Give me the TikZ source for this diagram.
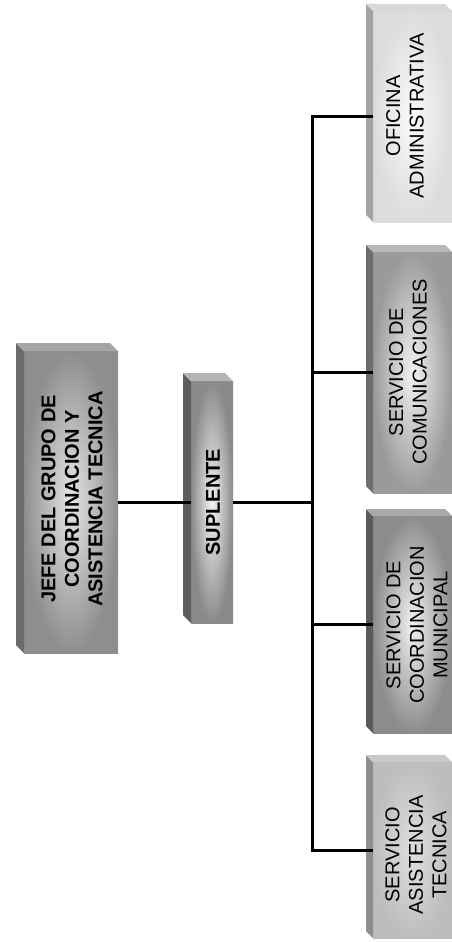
\documentclass[tikz,border=0pt]{standalone}
\usepackage{fontspec}
\setmainfont{Liberation Sans}
\usetikzlibrary{calc}
\definecolor{jefeIn}{HTML}{E6E6E6}\definecolor{jefeOut}{HTML}{8E8E8E}
\definecolor{jefeL}{HTML}{6B6B6B}\definecolor{jefeT}{HTML}{A6A6A6}
\definecolor{supIn}{HTML}{F4F4F4}\definecolor{supOut}{HTML}{8A8A8A}
\definecolor{supL}{HTML}{5E5E5E}\definecolor{supT}{HTML}{B5B5B5}
\definecolor{ofiIn}{HTML}{FAFAFA}\definecolor{ofiOut}{HTML}{DCDCDC}
\definecolor{ofiL}{HTML}{A3A3A3}\definecolor{ofiT}{HTML}{D9D9D9}
\definecolor{comIn}{HTML}{F2F2F2}\definecolor{comOut}{HTML}{9A9A9A}
\definecolor{comL}{HTML}{6E6E6E}\definecolor{comT}{HTML}{B8B8B8}
\definecolor{munIn}{HTML}{F2F2F2}\definecolor{munOut}{HTML}{8C8C8C}
\definecolor{munL}{HTML}{5A5A5A}\definecolor{munT}{HTML}{A8A8A8}
\definecolor{asiIn}{HTML}{DEDEDE}\definecolor{asiOut}{HTML}{BDBDBD}
\definecolor{asiL}{HTML}{8E8E8E}\definecolor{asiT}{HTML}{C9C9C9}
\tikzset{
  frontbox/.style={inner sep=0pt, outer sep=0pt, shading=radial},
  lbl/.style={rotate=90, align=center, inner sep=0pt, font=\fontsize{20}{23.5}\selectfont},
  conn/.style={line width=3pt, black},
}
\newcommand\bevelbox[4]{%
  \fill[#3] (#1.north west) -- ++(-#2,-#2) -- ($(#1.south west)+(-#2,-#2)$) -- (#1.south west) -- cycle;
  \fill[#4] (#1.north west) -- ++(-#2,-#2) -- ($(#1.north east)+(-#2,-#2)$) -- (#1.north east) -- cycle;
}
\begin{document}
\begin{tikzpicture}[x=1pt,y=-1pt]
\useasboundingbox (0,0) rectangle (452,942);
\clip (0,0) rectangle (452,942);
% boxes
\node[frontbox, minimum width=94pt, minimum height=302pt, inner color=jefeIn, outer color=jefeOut] (jefe) at (71,502) {};
\bevelbox{jefe}{8}{jefeL}{jefeT}
\node[frontbox, minimum width=42pt, minimum height=242pt, inner color=supIn, outer color=supOut] (sup) at (212,502) {};
\bevelbox{sup}{8}{supL}{supT}
\node[frontbox, minimum width=79pt, minimum height=211pt, inner color=ofiIn, outer color=ofiOut] (ofi) at (412.5,116.5) {};
\bevelbox{ofi}{7}{ofiL}{ofiT}
\node[frontbox, minimum width=79pt, minimum height=241pt, inner color=comIn, outer color=comOut] (com) at (412.5,372.5) {};
\bevelbox{com}{7}{comL}{comT}
\node[frontbox, minimum width=79pt, minimum height=217pt, inner color=munIn, outer color=munOut] (mun) at (412.5,624.5) {};
\bevelbox{mun}{7}{munL}{munT}
\node[frontbox, minimum width=79pt, minimum height=176pt, inner color=asiIn, outer color=asiOut] (asi) at (412.5,850) {};
\bevelbox{asi}{7}{asiL}{asiT}
% labels
\node[lbl, font=\fontsize{20}{23.5}\selectfont\bfseries] (jefet) at (72,499) {JEFE DEL GRUPO DE\\COORDINACION Y\\ASISTENCIA TECNICA};
\node[lbl, font=\fontsize{20}{23.5}\selectfont\bfseries] (supt) at (213,502) {SUPLENTE};
\node[lbl] (ofit) at (405,116) {OFICINA\\ADMINISTRATIVA};
\node[lbl] (comt) at (408,372) {SERVICIO DE\\COMUNICACIONES};
\node[lbl] (munt) at (417,625) {SERVICIO DE\\COORDINACION\\MUNICIPAL};
\node[lbl] (asit) at (416,855) {SERVICIO\\ASISTENCIA\\TECNICA};
% connectors
\coordinate (btop) at (312,117);
\coordinate (bbot) at (312,850);
\draw[conn] (jefe.east) -- (sup.west);
\draw[conn] (sup.east) -- (sup.east -| btop);
\draw[conn] (ofi.west) -- (ofi.west -| btop) -- (asi.west -| bbot) -- (asi.west);
\draw[conn] (com.west) -- (com.west -| btop);
\draw[conn] (mun.west) -- (mun.west -| btop);
\end{tikzpicture}
\end{document}
